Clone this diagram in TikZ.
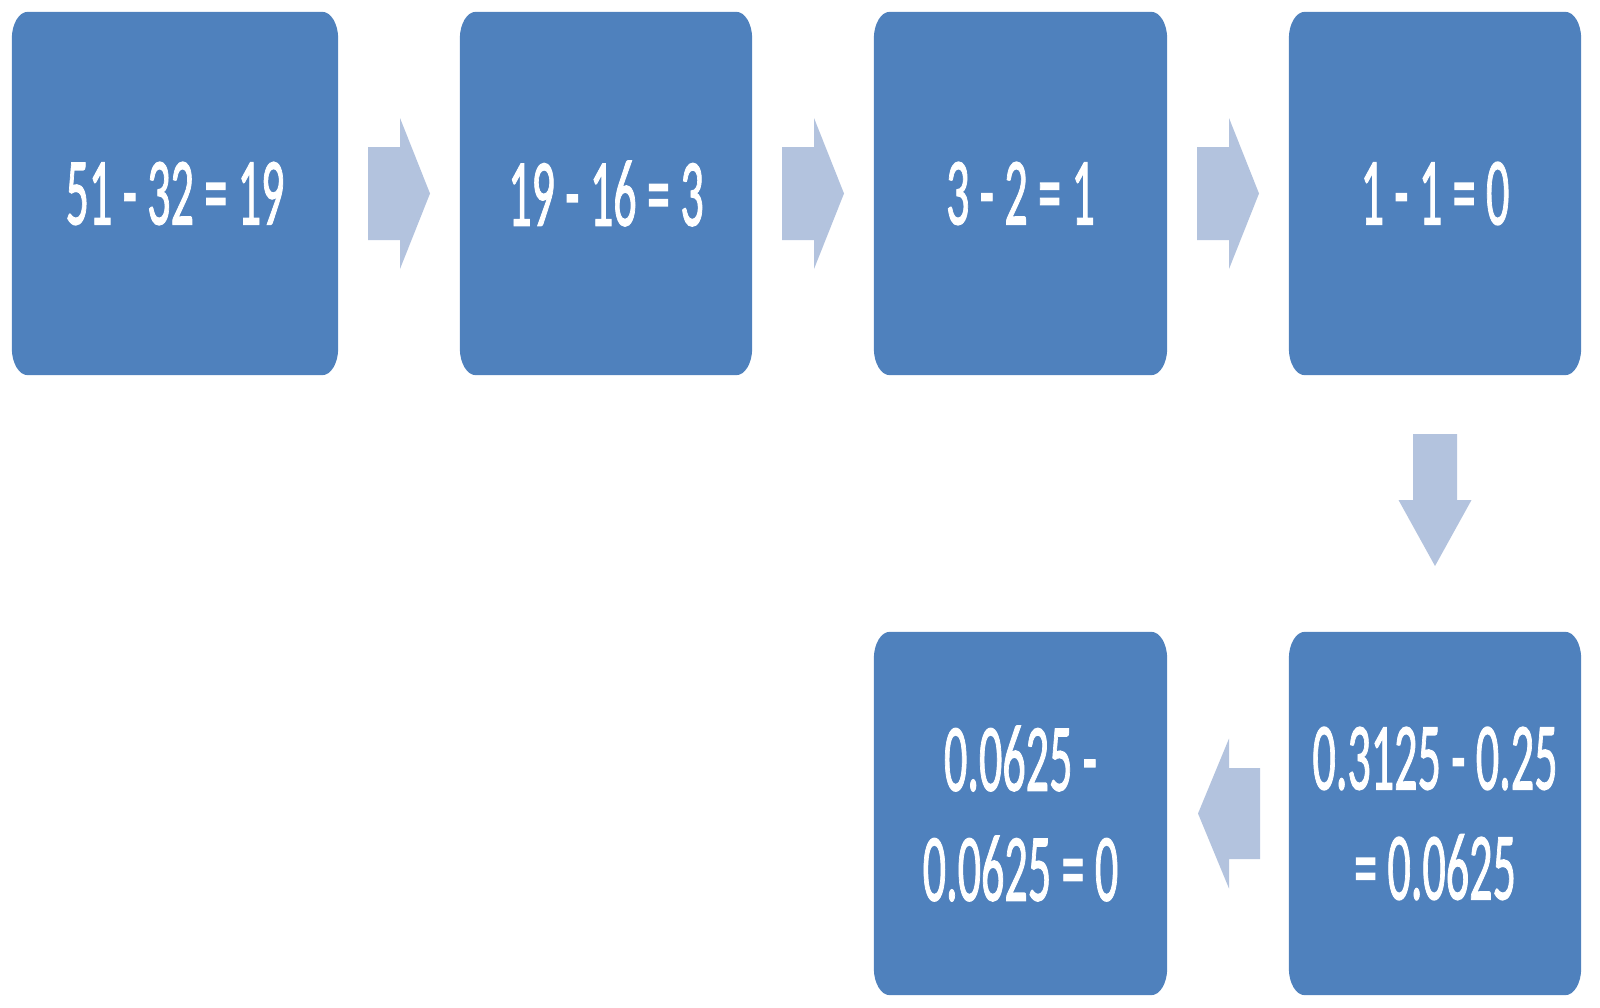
\documentclass[tikz,border=0pt]{standalone}
\usepackage{fontspec}
\setmainfont{Carlito}
\newfontfamily\boxfont[FakeBold=1.5]{Carlito}
\usepackage{graphicx}
\usetikzlibrary{calc,backgrounds}
\definecolor{boxblue}{HTML}{4F81BD}
\definecolor{arrowblue}{HTML}{B3C3DE}
\newcommand\sqz[1]{\scalebox{0.48}[1]{#1}}
\newcommand\ebox[1]{%
  \fill[boxblue] let \p1=(#1.north west), \p2=(#1.south east) in
    (\x1,\y1-27pt) .. controls (\x1,\y1-12.1pt) and (\x1+7.2pt,\y1) .. (\x1+16pt,\y1)
    -- (\x2-16pt,\y1) .. controls (\x2-7.2pt,\y1) and (\x2,\y1-12.1pt) .. (\x2,\y1-27pt)
    -- (\x2,\y2+27pt) .. controls (\x2,\y2+12.1pt) and (\x2-7.2pt,\y2) .. (\x2-16pt,\y2)
    -- (\x1+16pt,\y2) .. controls (\x1+7.2pt,\y2) and (\x1,\y2+12.1pt) .. (\x1,\y2+27pt) -- cycle;}
\tikzset{
  bluebox/.style={draw=none, minimum height=363pt,
    text=white, align=center, inner sep=0pt,
    font=\boxfont\fontsize{96}{110}\selectfont},
  blockarrow/.style={fill=arrowblue, draw=none}
}
\begin{document}
\begin{tikzpicture}[x=1pt,y=-1pt]
\useasboundingbox (0,0) rectangle (1600,1007);
\node[bluebox, minimum width=326pt] (b1) at (175,193.5) {\sqz{51 - 32 = 19}};
\node[bluebox, minimum width=292pt] (b2) at (606,193.5) {\sqz{19 - 16 = 3}};
\node[bluebox, minimum width=293pt] (b3) at (1020.5,193.5) {\sqz{3 - 2 = 1}};
\node[bluebox, minimum width=292pt] (b4) at (1435,193.5) {\sqz{1 - 1 = 0}};
\node[bluebox, minimum width=292pt] (b5) at (1435,813.5) {\sqz{0.3125 - 0.25}\\\sqz{= 0.0625}};
\node[bluebox, minimum width=293pt] (b6) at (1020.5,813.5) {\sqz{0.0625 -}\\\sqz{0.0625 = 0}};
\begin{pgfonlayer}{background}
\foreach \b in {b1,b2,b3,b4,b5,b6}{\ebox{\b}}
\end{pgfonlayer}
\coordinate (c1) at ($(b1.east)!0.5!(b2.west)$);
\coordinate (c2) at ($(b2.east)!0.5!(b3.west)$);
\coordinate (c3) at ($(b3.east)!0.5!(b4.west)$);
\coordinate (c4) at ($(b4.south)!0.5!(b5.north)$);
\coordinate (c5) at ($(b6.east)!0.5!(b5.west)$);
\foreach \c in {c1,c2,c3}{
  \fill[blockarrow] ($(\c)+(-31,-46.5)$) -- ($(\c)+(1,-46.5)$) -- ($(\c)+(1,-75.5)$)
    -- ($(\c)+(31,0)$) -- ($(\c)+(1,75.5)$) -- ($(\c)+(1,46.5)$) -- ($(\c)+(-31,46.5)$) -- cycle;
}
\fill[blockarrow] ($(c4)+(-22,-69.5)$) -- ($(c4)+(22,-69.5)$) -- ($(c4)+(22,-3.5)$)
  -- ($(c4)+(36.5,-3.5)$) -- ($(c4)+(0,62.5)$) -- ($(c4)+(-36.5,-3.5)$) -- ($(c4)+(-22,-3.5)$) -- cycle;
\fill[blockarrow] ($(c5)+(32,-45.5)$) -- ($(c5)+(1,-45.5)$) -- ($(c5)+(1,-75)$)
  -- ($(c5)+(-30,0)$) -- ($(c5)+(1,75)$) -- ($(c5)+(1,45.5)$) -- ($(c5)+(32,45.5)$) -- cycle;
\end{tikzpicture}
\end{document}
